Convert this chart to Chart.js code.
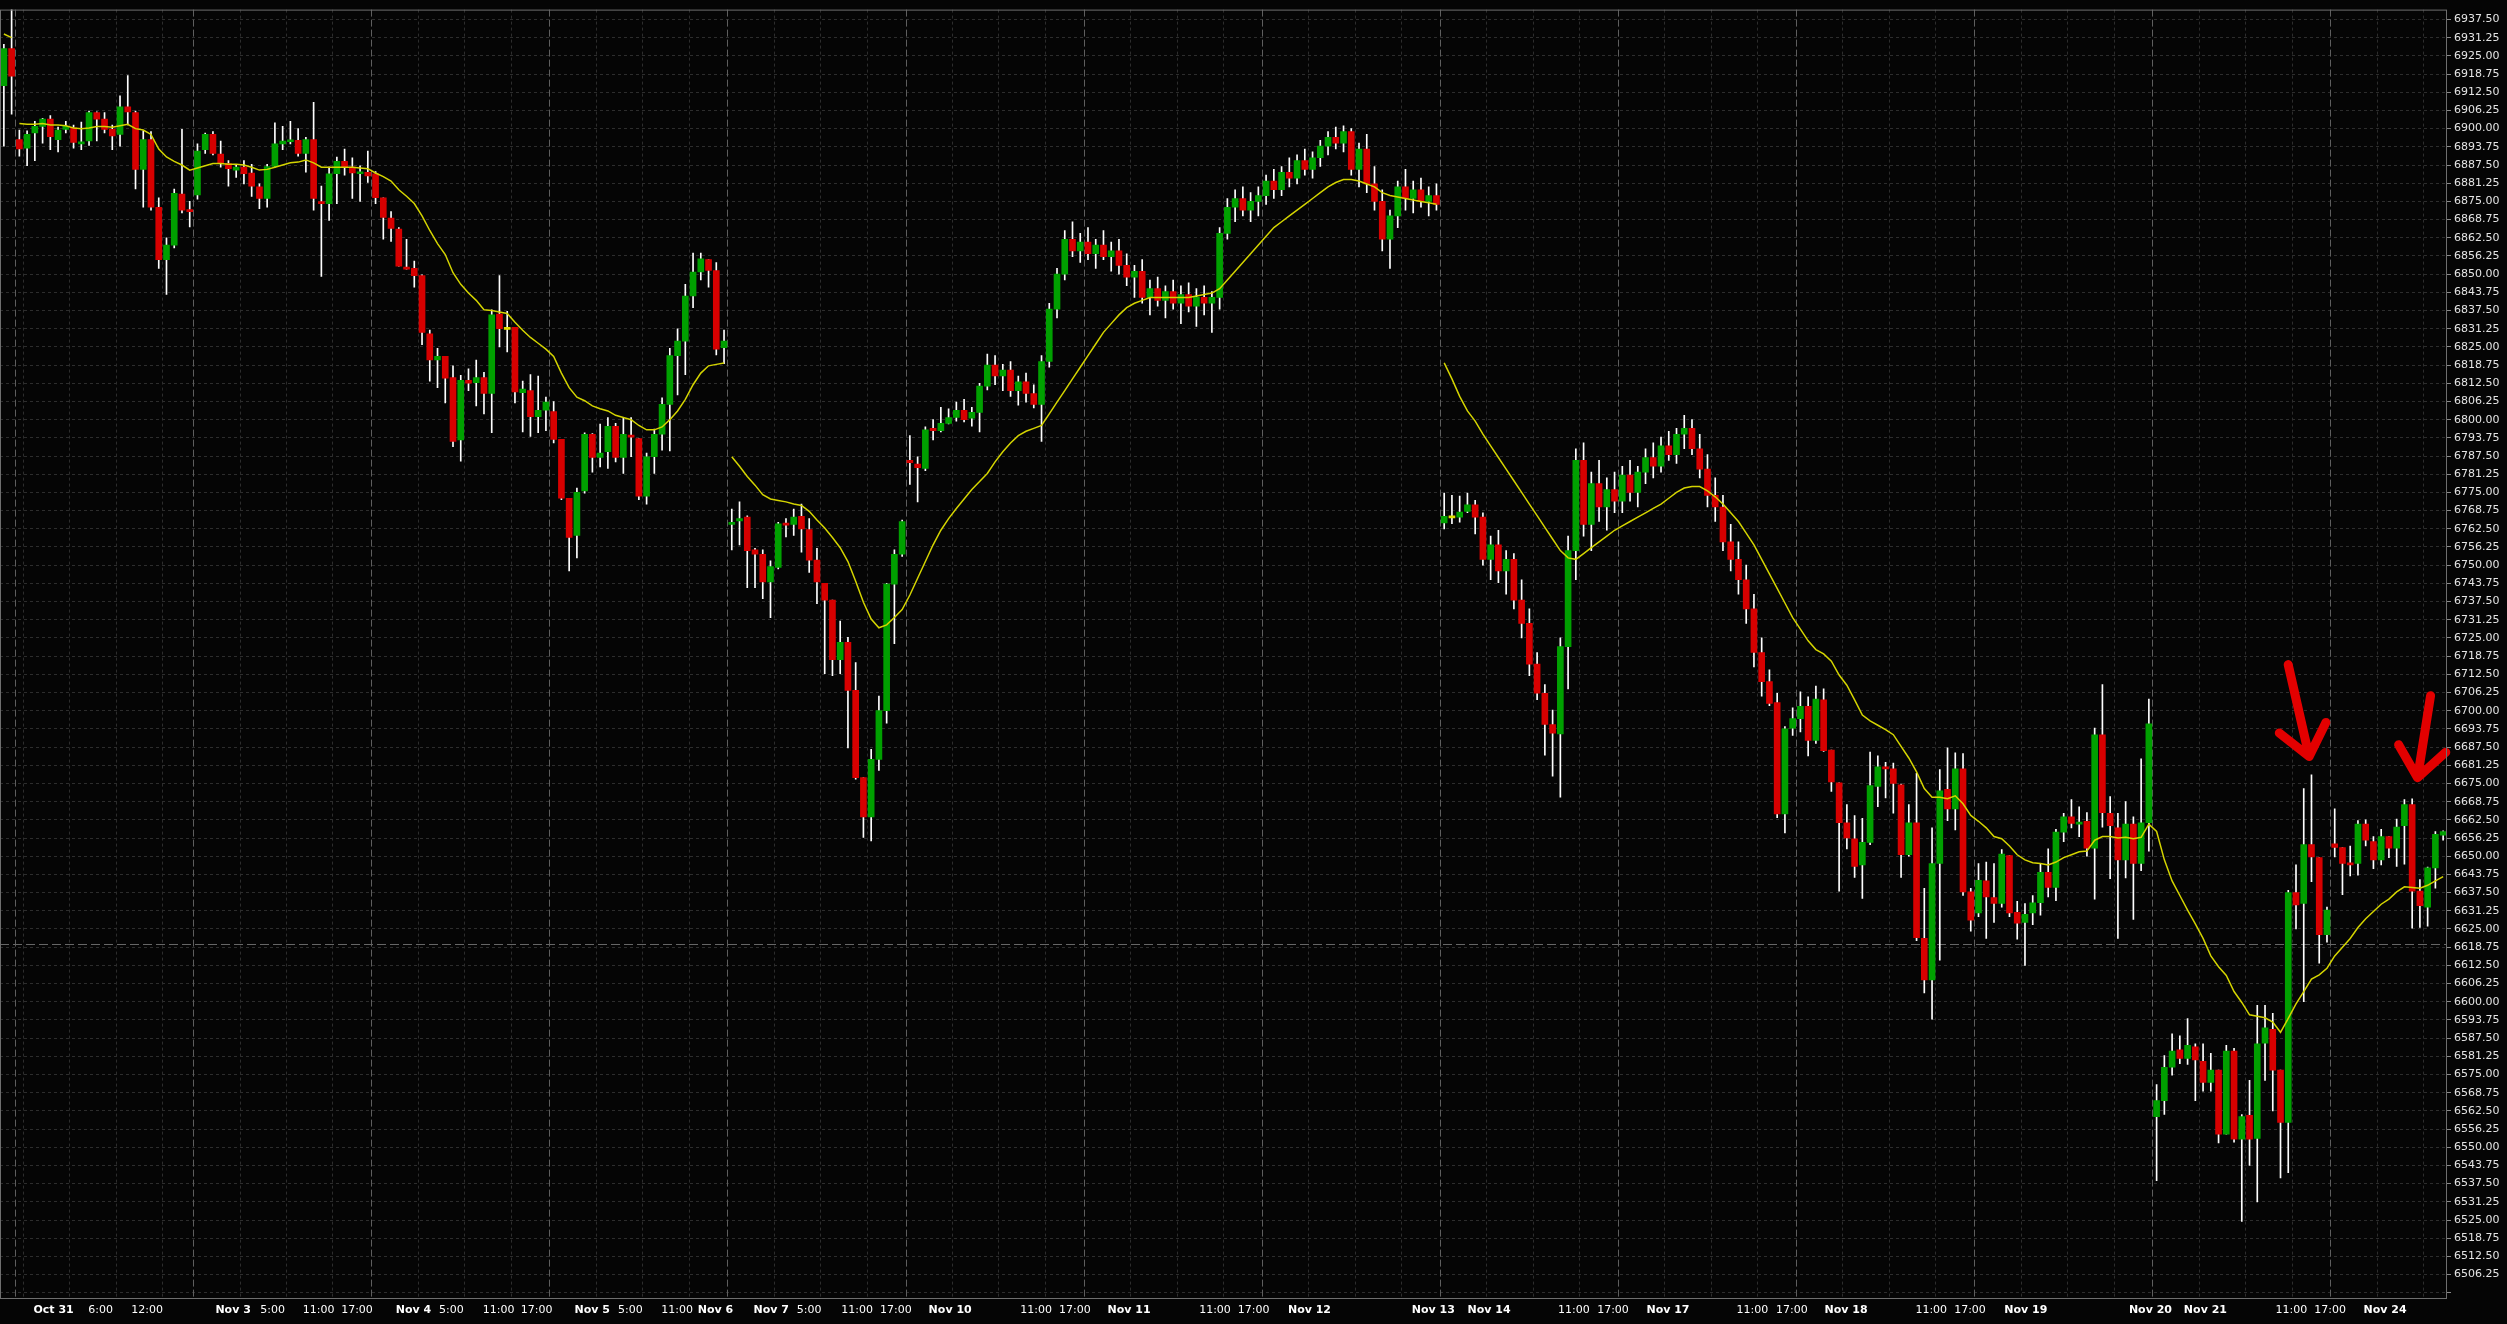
<!DOCTYPE html>
<html>
<head>
<meta charset="utf-8">
<title>Candles</title>
<script src="https://cdn.jsdelivr.net/npm/chart.js@4.4.1/dist/chart.umd.min.js"></script>
<style>
  html, body { margin: 0; padding: 0; background: #050505; }
  canvas { display: block; }
</style>
</head>
<body>
<canvas id="chart" width="2507" height="1324"></canvas>
<script>
// hourly bars, one entry per bar (10 per row)
const opens = [
  6914.75, 6927.5, 6896.25, 6893.25, 6898.5, 6900.75, 6903.25, 6896.25, 6899.75, 6900.25,
  6894.75, 6895.75, 6905.5, 6903.25, 6899.75, 6898.0, 6907.5, 6905.5, 6886.0, 6896.25,
  6873.0, 6855.0, 6860.0, 6877.5, 6872.0, 6877.25, 6892.75, 6898.0, 6891.25, 6888.0,
  6885.75, 6886.75, 6884.75, 6880.0, 6876.0, 6887.0, 6894.75, 6895.5, 6896.0, 6891.5,
  6896.25, 6874.75, 6874.25, 6884.5, 6888.75, 6886.75, 6884.5, 6885.0, 6884.5, 6876.25,
  6869.25, 6865.5, 6852.25, 6852.0, 6849.5, 6829.5, 6820.5, 6821.75, 6814.5, 6793.0,
  6813.5, 6812.75, 6814.5, 6809.0, 6836.25, 6831.0, 6831.75, 6809.25, 6810.0, 6801.0,
  6803.25, 6802.75, 6793.25, 6773.0, 6760.25, 6775.5, 6795.0, 6787.0, 6789.0, 6797.75,
  6787.0, 6794.5, 6793.5, 6773.75, 6787.25, 6795.0, 6805.25, 6822.0, 6827.0, 6842.5,
  6850.75, 6855.0, 6851.25, 6824.75, 6764.0, 6765.25, 6766.5, 6755.25, 6753.75, 6744.25,
  6749.25, 6764.25, 6764.0, 6766.75, 6762.25, 6751.75, 6743.75, 6738.0, 6717.5, 6723.5,
  6707.0, 6677.0, 6663.5, 6683.25, 6700.0, 6743.5, 6753.75, 6786.0, 6784.75, 6783.25,
  6797.0, 6796.25, 6798.75, 6800.75, 6803.25, 6800.5, 6802.5, 6811.5, 6818.75, 6815.0,
  6817.0, 6810.0, 6813.0, 6809.0, 6805.25, 6820.0, 6838.0, 6850.0, 6862.0, 6858.0,
  6861.0, 6857.0, 6860.0, 6856.0, 6858.0, 6853.0, 6849.0, 6851.0, 6842.0, 6845.0,
  6841.0, 6844.0, 6840.0, 6843.0, 6839.0, 6842.0, 6840.0, 6842.0, 6864.0, 6873.0,
  6876.0, 6872.0, 6875.0, 6877.0, 6882.0, 6879.0, 6885.0, 6883.0, 6889.0, 6886.0,
  6890.0, 6894.0, 6897.0, 6895.0, 6899.0, 6886.0, 6893.0, 6881.0, 6875.0, 6862.0,
  6870.0, 6880.0, 6876.0, 6879.0, 6875.0, 6877.0, 6764.5, 6766.25, 6766.5, 6768.5,
  6770.75, 6766.5, 6752.0, 6757.0, 6748.0, 6752.0, 6738.0, 6730.0, 6716.0, 6706.0,
  6695.25, 6692.0, 6722.0, 6755.0, 6786.0, 6764.0, 6778.0, 6770.0, 6776.0, 6772.0,
  6781.0, 6775.0, 6782.0, 6787.0, 6784.0, 6791.0, 6788.0, 6795.0, 6797.0, 6790.0,
  6783.0, 6774.0, 6770.0, 6758.0, 6752.0, 6745.0, 6735.0, 6720.0, 6710.0, 6702.75,
  6664.5, 6694.0, 6697.25, 6701.5, 6689.75, 6703.75, 6686.5, 6675.25, 6661.5, 6656.0,
  6647.0, 6654.75, 6674.0, 6680.5, 6680.0, 6674.5, 6650.5, 6661.5, 6621.75, 6607.5,
  6647.5, 6673.0, 6666.25, 6680.0, 6637.75, 6630.5, 6641.5, 6635.75, 6633.75, 6650.25,
  6630.75, 6627.25, 6630.5, 6634.0, 6644.5, 6639.25, 6658.25, 6663.5, 6661.0, 6662.0,
  6652.75, 6691.75, 6664.75, 6659.75, 6648.75, 6661.0, 6647.5, 6661.5, 6560.5, 6566.0,
  6577.5, 6583.5, 6580.5, 6584.5, 6579.5, 6572.25, 6576.5, 6554.5, 6583.0, 6552.75,
  6561.0, 6553.0, 6585.75, 6590.5, 6576.5, 6558.5, 6637.5, 6633.75, 6654.0, 6649.5,
  6623.0, 6654.25, 6653.0, 6647.5, 6647.5, 6661.0, 6655.0, 6648.75, 6656.75, 6652.75,
  6660.5, 6667.75, 6638.0, 6632.5, 6646.0, 6657.25
];
const highs = [
  6929.0, 6945.0, 6899.5, 6899.25, 6902.5, 6903.5, 6904.5, 6900.5, 6902.5, 6901.25,
  6902.25, 6906.0, 6905.75, 6905.5, 6901.25, 6911.25, 6918.25, 6906.0, 6899.25, 6899.0,
  6876.25, 6862.5, 6879.25, 6899.75, 6875.0, 6894.75, 6898.5, 6899.0, 6895.75, 6889.0,
  6887.75, 6889.0, 6887.75, 6881.0, 6887.75, 6902.0, 6900.75, 6902.5, 6900.0, 6897.0,
  6909.0, 6880.25, 6886.75, 6890.25, 6893.0, 6890.0, 6887.25, 6892.25, 6885.25, 6876.25,
  6871.5, 6866.0, 6862.0, 6854.5, 6849.75, 6830.75, 6824.5, 6821.75, 6818.5, 6815.25,
  6817.5, 6820.5, 6816.25, 6837.75, 6849.5, 6837.25, 6831.75, 6813.25, 6815.5, 6815.0,
  6807.75, 6806.25, 6793.25, 6773.0, 6776.5, 6795.5, 6795.25, 6798.5, 6800.75, 6798.75,
  6800.5, 6800.75, 6793.5, 6788.5, 6796.75, 6807.5, 6824.5, 6831.25, 6846.5, 6857.25,
  6857.25, 6855.0, 6854.0, 6830.75, 6769.25, 6771.75, 6767.0, 6755.75, 6755.25, 6751.5,
  6764.75, 6766.0, 6769.25, 6771.0, 6766.0, 6755.75, 6743.75, 6738.0, 6730.75, 6725.25,
  6716.5, 6677.0, 6686.75, 6705.0, 6743.75, 6755.25, 6765.5, 6794.5, 6787.25, 6797.5,
  6800.0, 6804.25, 6803.75, 6806.0, 6807.0, 6804.25, 6812.5, 6822.5, 6822.0, 6819.0,
  6820.0, 6815.0, 6816.0, 6812.0, 6822.0, 6840.0, 6852.0, 6865.0, 6868.0, 6864.0,
  6866.0, 6862.0, 6865.0, 6861.0, 6862.0, 6857.0, 6853.0, 6855.0, 6848.0, 6849.0,
  6846.0, 6848.0, 6846.0, 6847.0, 6845.0, 6846.0, 6844.0, 6866.0, 6876.0, 6879.0,
  6880.0, 6878.0, 6880.0, 6884.0, 6886.0, 6887.0, 6890.0, 6891.0, 6893.0, 6892.0,
  6896.0, 6899.0, 6900.5, 6901.0, 6900.0, 6895.0, 6898.0, 6887.0, 6879.0, 6872.0,
  6882.0, 6886.0, 6882.0, 6883.0, 6880.0, 6881.0, 6774.75, 6774.0, 6773.75, 6774.75,
  6772.25, 6768.0, 6760.0, 6762.0, 6755.0, 6754.0, 6745.0, 6735.0, 6720.0, 6709.0,
  6700.25, 6725.0, 6760.0, 6790.0, 6792.0, 6782.0, 6786.0, 6780.0, 6782.0, 6784.0,
  6786.0, 6784.0, 6790.0, 6792.0, 6794.0, 6796.0, 6797.0, 6801.5, 6800.0, 6795.0,
  6788.0, 6780.0, 6774.0, 6764.0, 6758.0, 6750.0, 6740.0, 6725.0, 6714.0, 6706.0,
  6694.5, 6701.0, 6706.5, 6704.75, 6708.5, 6707.5, 6686.5, 6675.25, 6667.75, 6664.0,
  6663.0, 6685.75, 6684.5, 6682.25, 6682.0, 6674.75, 6667.75, 6678.5, 6639.0, 6659.75,
  6679.75, 6687.25, 6685.5, 6685.25, 6639.0, 6647.5, 6648.0, 6647.5, 6652.25, 6650.25,
  6634.5, 6633.75, 6636.5, 6647.25, 6652.5, 6659.25, 6664.75, 6669.5, 6667.0, 6665.0,
  6694.0, 6709.0, 6670.5, 6664.75, 6668.75, 6663.5, 6683.5, 6704.0, 6571.5, 6581.5,
  6589.0, 6588.25, 6594.25, 6585.5, 6585.5, 6582.25, 6576.5, 6585.0, 6584.0, 6561.25,
  6573.0, 6598.75, 6598.75, 6596.0, 6576.5, 6638.25, 6647.0, 6673.25, 6678.0, 6649.5,
  6632.5, 6666.25, 6653.0, 6653.5, 6662.25, 6662.5, 6656.75, 6659.25, 6656.75, 6662.75,
  6669.5, 6669.75, 6642.0, 6646.25, 6658.5, 6658.75
];
const lows = [
  6894.0, 6905.0, 6890.5, 6887.25, 6889.0, 6895.0, 6892.75, 6892.0, 6898.5, 6893.25,
  6892.75, 6894.25, 6895.75, 6898.5, 6892.75, 6894.0, 6901.25, 6879.25, 6873.0, 6872.0,
  6852.0, 6843.0, 6859.0, 6871.0, 6866.25, 6875.75, 6891.5, 6891.0, 6886.75, 6880.25,
  6883.25, 6881.0, 6876.75, 6872.5, 6873.0, 6886.75, 6892.75, 6894.75, 6890.5, 6885.0,
  6872.0, 6849.25, 6868.5, 6874.25, 6884.0, 6876.0, 6875.0, 6881.5, 6874.25, 6862.0,
  6861.25, 6852.75, 6851.75, 6845.5, 6825.75, 6813.25, 6811.0, 6805.75, 6790.75, 6785.75,
  6810.0, 6804.75, 6802.0, 6795.5, 6825.0, 6823.25, 6805.75, 6795.75, 6794.25, 6795.5,
  6796.25, 6792.0, 6772.5, 6748.0, 6752.5, 6774.75, 6782.0, 6783.75, 6783.25, 6785.5,
  6781.5, 6787.25, 6772.5, 6771.0, 6781.5, 6789.5, 6789.25, 6808.5, 6815.5, 6838.5,
  6848.0, 6845.5, 6822.25, 6819.25, 6755.25, 6757.0, 6742.25, 6742.25, 6738.5, 6732.0,
  6748.75, 6759.75, 6760.25, 6754.5, 6747.5, 6736.75, 6712.75, 6712.0, 6712.75, 6687.25,
  6676.5, 6656.5, 6655.25, 6679.5, 6695.75, 6723.0, 6753.0, 6777.75, 6771.75, 6782.5,
  6793.0, 6795.75, 6798.5, 6799.5, 6799.25, 6797.75, 6795.75, 6810.25, 6812.0, 6810.0,
  6808.0, 6805.0, 6806.0, 6804.0, 6792.5, 6818.0, 6835.0, 6848.0, 6856.0, 6854.0,
  6855.0, 6852.0, 6855.0, 6851.0, 6850.0, 6846.0, 6842.0, 6840.0, 6836.0, 6839.0,
  6835.0, 6838.0, 6833.0, 6837.0, 6832.0, 6836.0, 6830.0, 6838.0, 6862.0, 6868.0,
  6870.0, 6868.0, 6870.0, 6874.0, 6876.0, 6877.0, 6880.0, 6881.0, 6884.0, 6883.0,
  6887.0, 6891.0, 6893.0, 6892.0, 6884.0, 6880.0, 6878.0, 6872.0, 6858.0, 6852.0,
  6866.0, 6872.0, 6871.0, 6873.0, 6870.0, 6872.0, 6762.5, 6764.25, 6764.75, 6768.0,
  6760.75, 6750.0, 6745.0, 6744.0, 6740.0, 6735.0, 6725.0, 6712.0, 6703.75, 6684.75,
  6677.5, 6670.25, 6707.5, 6745.0, 6760.0, 6755.0, 6765.0, 6762.0, 6768.0, 6768.0,
  6772.0, 6770.0, 6778.0, 6780.0, 6782.0, 6786.0, 6785.0, 6790.0, 6788.0, 6780.0,
  6770.0, 6765.0, 6755.0, 6748.0, 6740.0, 6730.0, 6715.0, 6705.0, 6701.75, 6663.25,
  6658.0, 6691.5, 6692.75, 6684.5, 6688.75, 6686.0, 6672.25, 6638.0, 6652.5, 6642.75,
  6635.5, 6654.0, 6667.0, 6670.0, 6664.75, 6642.75, 6650.0, 6621.0, 6603.0, 6594.0,
  6614.25, 6662.25, 6659.0, 6636.5, 6624.25, 6629.25, 6621.75, 6627.25, 6632.5, 6629.25,
  6621.5, 6612.5, 6626.5, 6629.75, 6636.0, 6634.75, 6655.0, 6659.75, 6656.75, 6650.0,
  6635.25, 6660.0, 6642.25, 6621.75, 6642.5, 6628.25, 6645.0, 6651.75, 6538.5, 6561.25,
  6574.75, 6578.75, 6578.5, 6566.0, 6569.25, 6569.25, 6551.5, 6554.5, 6551.75, 6524.5,
  6543.75, 6531.25, 6573.0, 6562.5, 6539.5, 6541.25, 6625.0, 6600.0, 6641.25, 6613.25,
  6620.5, 6649.75, 6636.75, 6643.25, 6643.5, 6653.5, 6645.75, 6647.0, 6649.5, 6646.5,
  6647.25, 6625.25, 6625.5, 6626.0, 6639.0, 6655.5
];
const closes = [
  6927.5, 6918.0, 6893.0, 6898.0, 6900.75, 6903.25, 6897.25, 6899.5, 6900.75, 6895.25,
  6895.5, 6905.5, 6903.25, 6899.75, 6897.5, 6907.5, 6905.75, 6886.0, 6896.25, 6873.0,
  6855.0, 6860.0, 6877.75, 6872.0, 6871.5, 6892.25, 6898.0, 6891.5, 6888.0, 6886.25,
  6886.75, 6884.5, 6880.25, 6876.0, 6887.0, 6894.75, 6895.75, 6896.0, 6891.5, 6896.25,
  6876.0, 6874.25, 6884.5, 6888.75, 6886.75, 6884.75, 6885.0, 6883.75, 6876.25, 6869.5,
  6865.75, 6852.75, 6851.75, 6849.5, 6830.0, 6820.5, 6821.75, 6814.25, 6792.5, 6813.5,
  6812.5, 6814.5, 6809.0, 6836.0, 6831.25, 6831.0, 6809.5, 6810.5, 6801.0, 6803.25,
  6806.0, 6793.25, 6773.0, 6759.5, 6775.0, 6795.0, 6787.0, 6788.5, 6797.75, 6787.0,
  6795.0, 6794.0, 6773.75, 6787.25, 6795.0, 6805.25, 6822.0, 6827.0, 6842.5, 6850.75,
  6855.25, 6851.25, 6824.25, 6827.0, 6764.75, 6766.0, 6755.0, 6753.75, 6744.25, 6749.5,
  6764.25, 6763.75, 6766.5, 6762.5, 6751.75, 6744.25, 6738.0, 6717.5, 6723.5, 6707.0,
  6677.0, 6663.5, 6683.25, 6700.0, 6743.5, 6753.75, 6765.0, 6785.25, 6783.5, 6796.5,
  6796.25, 6798.75, 6800.75, 6803.25, 6800.0, 6802.5, 6811.5, 6818.75, 6815.0, 6817.0,
  6810.0, 6813.0, 6809.0, 6805.25, 6820.0, 6838.0, 6850.0, 6862.0, 6858.0, 6861.0,
  6857.0, 6860.0, 6856.0, 6858.0, 6853.0, 6849.0, 6851.0, 6842.0, 6845.0, 6841.0,
  6844.0, 6840.0, 6843.0, 6839.0, 6842.0, 6840.0, 6842.0, 6864.0, 6873.0, 6876.0,
  6872.0, 6875.0, 6877.0, 6882.0, 6879.0, 6885.0, 6883.0, 6889.0, 6886.0, 6890.0,
  6894.0, 6897.0, 6895.0, 6899.0, 6886.0, 6893.0, 6881.0, 6875.0, 6862.0, 6870.0,
  6880.0, 6876.0, 6879.0, 6875.0, 6877.0, 6874.0, 6766.75, 6766.25, 6768.25, 6770.75,
  6766.5, 6752.0, 6757.0, 6748.0, 6752.0, 6738.0, 6730.0, 6716.0, 6706.0, 6695.25,
  6692.25, 6722.0, 6755.0, 6786.0, 6764.0, 6778.0, 6770.0, 6776.0, 6772.0, 6781.0,
  6775.0, 6782.0, 6787.0, 6784.0, 6791.0, 6788.0, 6795.0, 6797.0, 6790.0, 6783.0,
  6774.0, 6770.0, 6758.0, 6752.0, 6745.0, 6735.0, 6720.0, 6710.0, 6702.5, 6664.5,
  6693.75, 6697.25, 6701.5, 6689.75, 6704.0, 6686.25, 6675.5, 6661.5, 6656.25, 6646.5,
  6654.75, 6674.25, 6680.75, 6680.0, 6675.0, 6650.5, 6661.5, 6622.0, 6607.5, 6647.5,
  6672.5, 6666.25, 6680.0, 6637.75, 6628.0, 6641.75, 6636.0, 6633.75, 6650.75, 6630.5,
  6627.0, 6630.0, 6634.0, 6644.5, 6639.25, 6658.25, 6663.5, 6661.25, 6661.5, 6652.75,
  6691.75, 6665.0, 6660.5, 6648.75, 6661.0, 6647.5, 6661.5, 6695.5, 6566.0, 6577.5,
  6583.0, 6580.5, 6585.0, 6580.0, 6572.25, 6576.5, 6554.5, 6583.0, 6552.75, 6560.5,
  6552.75, 6585.5, 6591.0, 6576.5, 6558.5, 6637.5, 6633.25, 6654.0, 6649.75, 6623.0,
  6631.5, 6653.0, 6647.5, 6647.0, 6661.0, 6655.5, 6648.75, 6656.75, 6652.75, 6660.0,
  6667.75, 6638.0, 6633.0, 6646.0, 6657.5, 6658.5
];
// moving average (yellow)
const ma = [
  6932.5, 6931.25, 6901.75, 6901.5, 6901.5, 6901.75, 6901.25, 6901.25, 6901.0, 6900.25,
  6900.0, 6900.25, 6900.75, 6900.75, 6900.5, 6901.0, 6901.5, 6900.0, 6899.5, 6898.0,
  6893.0, 6890.25, 6888.75, 6887.5, 6885.75, 6886.5, 6887.25, 6888.0, 6888.0, 6887.75,
  6887.75, 6887.5, 6886.75, 6885.75, 6886.0, 6886.75, 6887.5, 6888.25, 6888.5, 6889.25,
  6888.25, 6886.75, 6886.75, 6886.75, 6886.75, 6886.75, 6886.5, 6886.25, 6884.75, 6883.5,
  6882.0, 6879.0, 6876.75, 6874.25, 6870.0, 6865.0, 6860.5, 6856.75, 6850.5, 6846.5,
  6843.5, 6841.0, 6837.75, 6837.5, 6837.0, 6836.5, 6833.5, 6830.75, 6828.25, 6826.25,
  6824.25, 6821.75, 6816.0, 6811.0, 6807.75, 6806.5, 6804.75, 6803.75, 6803.0, 6801.5,
  6800.75, 6800.0, 6798.0, 6796.5, 6796.5, 6797.5, 6800.0, 6803.0, 6807.0, 6812.0,
  6816.0, 6818.5, 6819.0, 6819.5, 6787.25, 6784.0, 6780.5, 6777.5, 6774.25, 6772.75,
  6772.25, 6771.75, 6771.0, 6770.5, 6768.5, 6765.5, 6762.75, 6759.5, 6756.0, 6751.25,
  6744.5, 6737.25, 6731.5, 6728.5, 6729.5, 6732.0, 6734.75, 6739.75, 6745.5, 6751.25,
  6757.0, 6762.0, 6766.0, 6769.5, 6772.75, 6776.0, 6778.75, 6781.5, 6785.5, 6789.0,
  6792.0, 6794.5, 6796.0, 6797.0, 6798.0, 6802.0, 6806.0, 6810.0, 6814.0, 6818.0,
  6822.0, 6826.0, 6830.0, 6833.0, 6836.0, 6838.5, 6840.0, 6841.0, 6842.0, 6842.0,
  6842.0, 6842.0, 6842.0, 6842.0, 6842.5, 6843.0, 6843.5, 6845.0, 6848.0, 6851.0,
  6854.0, 6857.0, 6860.0, 6863.0, 6866.0, 6868.0, 6870.0, 6872.0, 6874.0, 6876.0,
  6878.0, 6880.0, 6881.5, 6882.5, 6882.5, 6882.0, 6881.0, 6880.0, 6878.0, 6877.0,
  6876.5, 6876.0, 6875.5, 6875.0, 6874.5, 6874.0, 6819.5, 6814.0, 6808.0, 6803.0,
  6799.5, 6795.0, 6791.0, 6787.0, 6783.0, 6779.0, 6775.0, 6771.0, 6767.0, 6763.0,
  6759.0, 6755.0, 6752.5, 6752.0, 6754.0, 6756.0, 6758.0, 6760.0, 6762.0, 6763.5,
  6765.0, 6766.5, 6768.0, 6769.5, 6771.0, 6773.0, 6775.0, 6776.5, 6777.0, 6777.0,
  6775.5, 6773.5, 6771.0, 6768.0, 6765.0, 6761.0, 6757.0, 6752.0, 6747.0, 6742.0,
  6737.0, 6732.0, 6728.0, 6724.0, 6721.0, 6719.5, 6717.0, 6712.25, 6708.75, 6703.75,
  6698.5, 6696.5, 6695.0, 6693.5, 6691.75, 6687.75, 6683.75, 6679.0, 6673.25, 6670.25,
  6670.25, 6669.75, 6670.75, 6668.0, 6664.0, 6662.0, 6659.75, 6656.75, 6656.0, 6653.5,
  6650.5, 6648.75, 6647.75, 6647.5, 6647.0, 6648.0, 6649.5, 6650.5, 6651.5, 6651.75,
  6655.5, 6656.75, 6656.75, 6656.25, 6656.5, 6656.0, 6656.5, 6661.0, 6658.5, 6648.75,
  6641.5, 6636.5, 6631.5, 6626.75, 6621.75, 6615.75, 6612.0, 6609.0, 6603.5, 6599.75,
  6595.5, 6595.0, 6594.5, 6593.0, 6589.5, 6594.25, 6599.25, 6603.5, 6607.75, 6609.25,
  6611.5, 6615.75, 6618.75, 6621.75, 6625.5, 6628.5, 6631.0, 6633.5, 6635.25, 6637.75,
  6639.5, 6639.25, 6639.0, 6640.0, 6641.5, 6643.0
];
// bar index after which the average line is not drawn (session gaps)
const maBreaks = [1, 93, 185];

// x axis: labels (bar-index positions), session separators and hour grid
const xLabelPos = [6.42, 12.49, 18.5, 29.6, 34.7, 40.65, 45.6, 52.9, 57.8, 63.9, 68.8, 75.97, 80.9, 86.95,
  91.9, 99.1, 104.0, 110.2, 115.2, 122.2, 133.3, 138.3, 145.3, 156.4, 161.4, 168.6, 184.6, 191.8,
  202.75, 207.8, 214.9, 225.8, 230.9, 237.9, 248.9, 253.9, 261.1, 277.2, 284.3, 295.4, 300.4, 307.5];
const xLabelText = ['Oct 31', '6:00', '12:00', 'Nov 3', '5:00', '11:00', '17:00', 'Nov 4', '5:00', '11:00',
  '17:00', 'Nov 5', '5:00', '11:00', 'Nov 6', 'Nov 7', '5:00', '11:00', '17:00', 'Nov 10', '11:00', '17:00',
  'Nov 11', '11:00', '17:00', 'Nov 12', 'Nov 13', 'Nov 14', '11:00', '17:00', 'Nov 17', '11:00', '17:00',
  'Nov 18', '11:00', '17:00', 'Nov 19', 'Nov 20', 'Nov 21', '11:00', '17:00', 'Nov 24'];
const sessionLines = [1.5, 24.5, 47.5, 70.5, 93.5, 116.5, 139.5, 162.5, 185.5, 208.5, 231.5, 254.5, 277.5, 300.5];
const hourLines = [2.5, 8.5, 14.5, 20.5, 30.5, 36.5, 42.5, 53.5, 59.5, 65.5, 76.5, 82.5, 88.5, 99.5, 105.5,
  111.5, 122.5, 128.5, 134.5, 145.5, 151.5, 157.5, 168.5, 174.5, 180.5, 191.5, 197.5, 203.5, 214.5, 220.5,
  226.5, 237.5, 243.5, 249.5, 260.5, 266.5, 272.5, 283.5, 289.5, 295.5, 306.5, 312.5];

// y axis
const yMin = 6498.2;
const yMax = 6940.9;
const yStep = 6.25;
const yLabelFloor = 6506;

// dashed price level and the two red arrows (tip at bar position / price)
const refLevel = 6620;
const arrows = [
  { at: 297.7, price: 6684.25, tailDx: -21, tailDy: -92 },
  { at: 311.7, price: 6677.0, tailDx: 13, tailDy: -82 }
];

const UP = '#00a000';
const DOWN = '#d70000';
const DOJI = '#e0e000';
const MA_COLOR = '#d4d400';

const bodies = opens.map((o, i) => [Math.min(o, closes[i]), Math.max(o, closes[i])]);
const wicks = opens.map((o, i) => [lows[i], highs[i]]);
const bodyColors = opens.map((o, i) => closes[i] > o ? UP : (closes[i] < o ? DOWN : DOJI));

const overlay = {
  id: 'overlay',
  beforeDatasetsDraw(chart) {
    const { ctx, chartArea: a, scales } = chart;
    const y = Math.round(scales.y.getPixelForValue(refLevel)) + 0.5;
    ctx.save();
    ctx.strokeStyle = '#666666';
    ctx.lineWidth = 1;
    ctx.setLineDash([9, 4]);
    ctx.beginPath();
    ctx.moveTo(a.left, y);
    ctx.lineTo(a.right, y);
    ctx.stroke();
    ctx.restore();
  },
  afterDatasetsDraw(chart) {
    const { ctx, scales } = chart;
    ctx.save();
    ctx.strokeStyle = '#e30000';
    ctx.lineWidth = 9;
    ctx.lineCap = 'round';
    ctx.lineJoin = 'round';
    arrows.forEach(ar => {
      const tx = scales.xl.getPixelForValue(ar.at);
      const ty = scales.y.getPixelForValue(ar.price);
      const sx = tx + ar.tailDx, sy = ty + ar.tailDy;
      const back = Math.atan2(sy - ty, sx - tx);
      const arm = 38, spread = 0.68;
      ctx.beginPath();
      ctx.moveTo(sx, sy);
      ctx.lineTo(tx, ty);
      ctx.moveTo(tx + arm * Math.cos(back - spread), ty + arm * Math.sin(back - spread));
      ctx.lineTo(tx, ty);
      ctx.lineTo(tx + arm * Math.cos(back + spread), ty + arm * Math.sin(back + spread));
      ctx.stroke();
    });
    ctx.restore();
  },
  afterDraw(chart) {
    const { ctx, chartArea: a } = chart;
    ctx.save();
    ctx.strokeStyle = '#6e6e6e';
    ctx.lineWidth = 1;
    ctx.strokeRect(a.left + 0.5, a.top + 0.5, a.right - a.left - 1, a.bottom - a.top);
    ctx.restore();
  }
};

const gridAxis = (lines, color, dash) => ({
  type: 'linear',
  position: 'bottom',
  offset: false,
  min: -0.5,
  max: opens.length - 0.5,
  afterBuildTicks: s => { s.ticks = lines.map(v => ({ value: v })); },
  afterFit: s => { s.height = 0; },
  ticks: { display: false },
  grid: { color: color, drawTicks: false, offset: false },
  border: { display: false, dash: dash }
});

new Chart(document.getElementById('chart'), {
  type: 'bar',
  data: {
    labels: opens.map((_v, i) => i),
    datasets: [
      {
        type: 'line',
        data: ma,
        borderColor: MA_COLOR,
        borderWidth: 1.5,
        pointRadius: 0,
        tension: 0,
        order: 0,
        segment: { borderColor: c => maBreaks.includes(c.p0DataIndex) ? 'rgba(0,0,0,0)' : MA_COLOR }
      },
      {
        data: bodies,
        backgroundColor: bodyColors,
        barThickness: 6,
        minBarLength: 2,
        grouped: false,
        order: 1
      },
      {
        data: wicks,
        backgroundColor: '#ffffff',
        barThickness: 1,
        grouped: false,
        order: 2
      }
    ]
  },
  options: {
    responsive: false,
    devicePixelRatio: 1,
    animation: false,
    layout: { padding: { top: 6, left: 0, right: 0, bottom: 0 } },
    plugins: { legend: { display: false }, tooltip: { enabled: false } },
    scales: {
      x: { type: 'category', display: false, offset: true },
      y: {
        type: 'linear',
        position: 'right',
        min: yMin,
        max: yMax,
        afterFit: s => { s.width = 60; },
        ticks: {
          stepSize: yStep,
          includeBounds: false,
          color: '#e4e4e4',
          padding: 3,
          font: { family: 'DejaVu Sans', size: 11 },
          callback: v => v < yLabelFloor ? '' : v.toFixed(2)
        },
        grid: { color: '#2d2d2d', tickLength: 4, tickColor: '#8a8a8a' },
        border: { display: false, dash: [3, 3] }
      },
      xs: gridAxis(sessionLines, '#5e5e5e', [7, 3]),
      xh: gridAxis(hourLines, '#2d2d2d', [3, 3]),
      xl: {
        type: 'linear',
        position: 'bottom',
        offset: false,
        min: -0.5,
        max: opens.length - 0.5,
        afterBuildTicks: s => { s.ticks = xLabelPos.map(v => ({ value: v })); },
        afterFit: s => { s.height = 26; },
        grid: { display: false, drawTicks: false, offset: false },
        border: { display: false },
        ticks: {
          autoSkip: false,
          maxRotation: 0,
          minRotation: 0,
          color: '#ffffff',
          padding: 6,
          font: c => ({ family: 'DejaVu Sans', size: 11, weight: /:/.test(xLabelText[c.index] || '') ? 'normal' : 'bold' }),
          callback: (v, i) => xLabelText[i]
        }
      }
    }
  },
  plugins: [overlay]
});
</script>
</body>
</html>
